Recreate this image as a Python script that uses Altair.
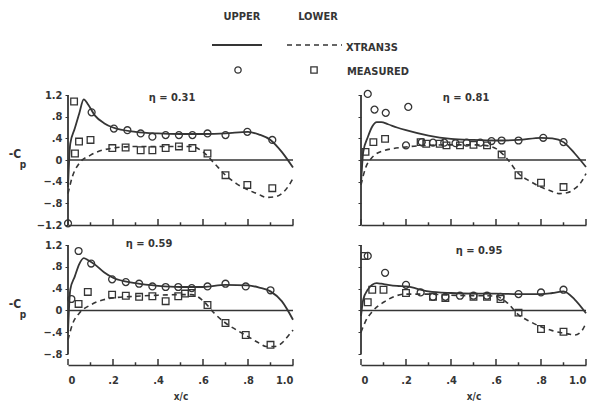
import altair as alt
import pandas as pd

# ---------------- data ----------------
UP_X = [0, 0.01, 0.03, 0.05, 0.07, 0.09, 0.12, 0.16, 0.2, 0.3, 0.4, 0.5, 0.6, 0.7, 0.8, 0.85, 0.9, 0.95, 1.0]
LO_X = [0, 0.02, 0.05, 0.1, 0.2, 0.3, 0.4, 0.5, 0.55, 0.6, 0.65, 0.7, 0.75, 0.8, 0.85, 0.88, 0.92, 0.95, 0.98, 1.0]

UP_31 = [-0.5, 0.3, 0.58, 0.86, 1.12, 1.02, 0.82, 0.68, 0.6, 0.52, 0.49, 0.48, 0.48, 0.49, 0.52, 0.47, 0.37, 0.15, -0.14]
LO_31 = [-0.62, -0.3, -0.06, 0.09, 0.22, 0.25, 0.25, 0.25, 0.25, 0.15, -0.06, -0.28, -0.44, -0.55, -0.64, -0.69, -0.68, -0.62, -0.48, -0.34]
UP_81 = [-0.45, 0.15, 0.42, 0.62, 0.70, 0.70, 0.66, 0.6, 0.55, 0.45, 0.39, 0.37, 0.36, 0.37, 0.41, 0.4, 0.33, 0.12, -0.13]
LO_81 = [-0.46, -0.15, 0.05, 0.17, 0.24, 0.27, 0.28, 0.28, 0.27, 0.21, 0.02, -0.25, -0.39, -0.5, -0.58, -0.62, -0.6, -0.53, -0.4, -0.25]
UP_59 = [-0.4, 0.38, 0.62, 0.85, 0.96, 0.92, 0.84, 0.7, 0.6, 0.5, 0.45, 0.43, 0.43, 0.47, 0.46, 0.42, 0.35, 0.17, -0.17]
LO_59 = [-0.54, -0.25, -0.05, 0.1, 0.23, 0.26, 0.28, 0.29, 0.29, 0.18, -0.05, -0.23, -0.36, -0.48, -0.6, -0.66, -0.66, -0.6, -0.46, -0.36]
UP_95 = [-0.1, 0.2, 0.38, 0.47, 0.5, 0.49, 0.47, 0.45, 0.44, 0.35, 0.32, 0.31, 0.31, 0.3, 0.3, 0.32, 0.35, 0.2, -0.05]
LO_95 = [-0.4, -0.2, -0.02, 0.15, 0.3, 0.3, 0.28, 0.27, 0.27, 0.26, 0.14, -0.08, -0.2, -0.3, -0.37, -0.4, -0.43, -0.45, -0.38, -0.23]

CIR_X_31 = [0.0, 0.105, 0.204, 0.264, 0.323, 0.375, 0.434, 0.493, 0.553, 0.62, 0.70, 0.797, 0.908]
CIR_Y_31 = [-1.17, 0.88, 0.58, 0.55, 0.49, 0.43, 0.46, 0.46, 0.46, 0.49, 0.46, 0.52, 0.37]
SQ_X_31 = [0.027, 0.031, 0.049, 0.10, 0.197, 0.256, 0.323, 0.375, 0.434, 0.493, 0.553, 0.62, 0.70, 0.797, 0.908]
SQ_Y_31 = [1.08, 0.12, 0.34, 0.37, 0.22, 0.23, 0.18, 0.18, 0.22, 0.25, 0.22, 0.12, -0.28, -0.46, -0.52]

CIR_X_81 = [0.03, 0.06, 0.11, 0.21, 0.2, 0.27, 0.32, 0.37, 0.42, 0.47, 0.53, 0.58, 0.625, 0.70, 0.81, 0.90]
CIR_Y_81 = [1.22, 0.93, 0.87, 0.98, 0.27, 0.33, 0.32, 0.32, 0.31, 0.32, 0.32, 0.35, 0.36, 0.36, 0.41, 0.33]
SQ_X_81 = [0.02, 0.055, 0.107, 0.265, 0.29, 0.35, 0.38, 0.44, 0.5, 0.56, 0.625, 0.70, 0.80, 0.90]
SQ_Y_81 = [0.15, 0.33, 0.39, 0.33, 0.30, 0.30, 0.27, 0.27, 0.28, 0.27, 0.10, -0.28, -0.42, -0.50]

CIR_X_59 = [0.015, 0.047, 0.103, 0.196, 0.257, 0.316, 0.375, 0.434, 0.49, 0.55, 0.62, 0.70, 0.79, 0.90]
CIR_Y_59 = [0.21, 1.09, 0.86, 0.57, 0.52, 0.49, 0.44, 0.43, 0.43, 0.41, 0.44, 0.49, 0.44, 0.37]
SQ_X_59 = [0.047, 0.088, 0.196, 0.257, 0.316, 0.375, 0.434, 0.49, 0.52, 0.55, 0.62, 0.70, 0.79, 0.90]
SQ_Y_59 = [0.12, 0.34, 0.29, 0.27, 0.25, 0.26, 0.17, 0.26, 0.31, 0.32, 0.10, -0.23, -0.45, -0.63]

CIR_X_95 = [0.03, 0.107, 0.2, 0.265, 0.32, 0.375, 0.44, 0.5, 0.56, 0.62, 0.70, 0.80, 0.90]
CIR_Y_95 = [1.0, 0.69, 0.47, 0.33, 0.25, 0.25, 0.27, 0.27, 0.27, 0.25, 0.30, 0.33, 0.38]
SQ_X_95 = [0.015, 0.03, 0.05, 0.1, 0.2, 0.32, 0.375, 0.5, 0.56, 0.62, 0.70, 0.80, 0.90]
SQ_Y_95 = [1.0, 0.15, 0.38, 0.38, 0.32, 0.25, 0.23, 0.25, 0.25, 0.21, -0.04, -0.34, -0.39]

ETA_LABELS = ["\u03b7 = 0.31", "\u03b7 = 0.81", "\u03b7 = 0.59", "\u03b7 = 0.95"]
X_LABEL_VALUES = [0, 0.2, 0.4, 0.6, 0.8, 1.0]
X_TICK_VALUES = [0, 0.1, 0.2, 0.3, 0.4, 0.5, 0.6, 0.7, 0.8, 0.9, 1.0]
Y_TICKS_TOP = [-1.2, -0.8, -0.4, 0, 0.4, 0.8, 1.2]
Y_TICKS_BOT = [-0.8, -0.4, 0, 0.4, 0.8, 1.2]

# ---------------- styling ----------------
INK = "#353535"
FONT = "DejaVu Sans Condensed, Liberation Sans Narrow, DejaVu Sans"
W = 225
LABEL_EXPR = "datum.value == 0 ? '0' : replace(format(datum.value, '.1f'), '0.', '.')"
XLABEL_EXPR = "datum.value == 0 ? '0' : (datum.value == 1 ? '1.0' : replace(format(datum.value, '.1f'), '0.', '.'))"


def panel(eta, up, lo, cx, cy, sx, sy, left, bottom, eta_pos, legend=False):
    H = 120 if bottom else 130
    ydom = [-1.0, 1.2] if bottom else [-1.2, 1.2]
    yticks = Y_TICKS_BOT if bottom else Y_TICKS_TOP
    xs = alt.Scale(domain=[0, 1], nice=False, zero=False)
    ys = alt.Scale(domain=ydom, nice=False, zero=False)

    xaxis_kw = dict(values=X_LABEL_VALUES, ticks=False, labels=bottom, grid=False,
                    domain=True, domainColor=INK, domainWidth=1.6,
                    labelExpr=XLABEL_EXPR, labelFont=FONT, labelFontWeight="bold",
                    labelFontSize=11, labelColor=INK, labelPadding=9)
    if bottom:
        xaxis_kw.update(titleFont=FONT, titleFontWeight="bold", titleFontSize=10,
                        titleColor=INK, titlePadding=6)
    yaxis_kw = dict(values=yticks, ticks=True, tickSize=3, tickColor=INK, labels=left,
                    grid=False, domain=False, labelExpr=LABEL_EXPR, labelFont=FONT,
                    labelFontWeight="bold", labelFontSize=11, labelColor=INK,
                    labelPadding=3)

    xt = "x/c" if bottom else None
    X = lambda f: alt.X(f, type="quantitative", scale=xs, axis=alt.Axis(**xaxis_kw), title=xt)
    Y = lambda f: alt.Y(f, type="quantitative", scale=ys, axis=alt.Axis(**yaxis_kw), title=None)

    # axis frame pieces
    yline = alt.Chart(pd.DataFrame({"x": [0], "y": [yticks[0]], "y2": [1.2]})).mark_rule(
        color=INK, strokeWidth=1.8).encode(x=X("x"), y=Y("y"), y2="y2")
    zero = alt.Chart(pd.DataFrame({"x": [0], "x2": [1], "y": [0]})).mark_rule(
        color=INK, strokeWidth=1.6).encode(x=X("x"), x2="x2", y=Y("y"))
    tdf = pd.DataFrame({
        "x": X_TICK_VALUES,
        "y": [ydom[0]] * len(X_TICK_VALUES),
        "y2": [ydom[0] + (0.11 if i % 2 == 0 else 0.05) for i in range(len(X_TICK_VALUES))],
    })
    ticks = alt.Chart(tdf).mark_rule(color=INK, strokeWidth=1.5).encode(
        x=X("x"), y=Y("y"), y2="y2")

    updf = pd.DataFrame({"x": UP_X, "y": up})
    lodf = pd.DataFrame({"x": LO_X, "y": lo})
    upper = alt.Chart(updf).mark_line(color=INK, strokeWidth=1.8, interpolate="monotone").encode(
        x=X("x"), y=Y("y"))
    lower = alt.Chart(lodf).mark_line(color=INK, strokeWidth=1.6, strokeDash=[5, 4],
                                      interpolate="monotone").encode(x=X("x"), y=Y("y"))
    circ = alt.Chart(pd.DataFrame({"x": cx, "y": cy})).mark_point(
        shape="circle", filled=False, size=48, stroke=INK, strokeWidth=1.3, opacity=1).encode(
        x=X("x"), y=Y("y"))
    sq = alt.Chart(pd.DataFrame({"x": sx, "y": sy})).mark_point(
        shape="square", filled=False, size=44, stroke=INK, strokeWidth=1.3, opacity=1).encode(
        x=X("x"), y=Y("y"))

    one = pd.DataFrame({"a": [0]})
    etxt = alt.Chart(one).mark_text(text=eta, font=FONT, fontWeight="bold", fontSize=11,
                                    color=INK, align="center", baseline="middle").encode(
        x=alt.value(eta_pos[0]), y=alt.value(eta_pos[1]))

    layers = [zero, yline, ticks, upper, lower, circ, sq, etxt]

    if left:
        zpix = H * (ydom[1] - 0) / (ydom[1] - ydom[0])
        c_txt = alt.Chart(one).mark_text(text="-C", font=FONT, fontWeight="bold", fontSize=12,
                                         color=INK, align="center", baseline="middle").encode(
            x=alt.value(-53), y=alt.value(zpix - 6))
        p_txt = alt.Chart(one).mark_text(text="p", font=FONT, fontWeight="bold", fontSize=10,
                                         color=INK, align="center", baseline="middle").encode(
            x=alt.value(-45), y=alt.value(zpix + 5))
        layers += [c_txt, p_txt]

    if legend:
        def txt(t, x, y, align="center"):
            return alt.Chart(one).mark_text(text=t, font=FONT, fontWeight="bold", fontSize=11,
                                            color=INK, align=align, baseline="middle").encode(
                x=alt.value(x), y=alt.value(y))
        leg = [
            txt("UPPER", 174, -78),
            txt("LOWER", 250, -78),
            txt("XTRAN3S", 278, -47, "left"),
            txt("MEASURED", 279, -23, "left"),
            alt.Chart(one).mark_rule(color=INK, strokeWidth=1.8).encode(
                x=alt.value(144), x2=alt.value(194), y=alt.value(-50)),
            alt.Chart(one).mark_rule(color=INK, strokeWidth=1.6, strokeDash=[5, 4]).encode(
                x=alt.value(219), x2=alt.value(274), y=alt.value(-50)),
            alt.Chart(one).mark_point(shape="circle", filled=False, size=40, stroke=INK,
                                      strokeWidth=1.3, opacity=1).encode(
                x=alt.value(170), y=alt.value(-25)),
            alt.Chart(one).mark_point(shape="square", filled=False, size=40, stroke=INK,
                                      strokeWidth=1.3, opacity=1).encode(
                x=alt.value(246), y=alt.value(-25)),
        ]
        layers += leg

    return alt.layer(*layers).properties(width=W, height=H)


tl = panel(ETA_LABELS[0], UP_31, LO_31, CIR_X_31, CIR_Y_31, SQ_X_31, SQ_Y_31, True, False, (104, 3), legend=True)
tr = panel(ETA_LABELS[1], UP_81, LO_81, CIR_X_81, CIR_Y_81, SQ_X_81, SQ_Y_81, False, False, (105, 3))
bl = panel(ETA_LABELS[2], UP_59, LO_59, CIR_X_59, CIR_Y_59, SQ_X_59, SQ_Y_59, True, True, (81, -1))
br = panel(ETA_LABELS[3], UP_95, LO_95, CIR_X_95, CIR_Y_95, SQ_X_95, SQ_Y_95, False, True, (118, 6))

chart = alt.concat(tl, tr, bl, br, columns=2, spacing={"row": 20, "column": 68},
                   bounds="flush").properties(
    padding={"left": 8, "top": 11, "right": 2, "bottom": 2},
    background="white",
).configure_view(stroke=None)

chart.save("out.html", embed_options={"renderer": "svg", "actions": False})
